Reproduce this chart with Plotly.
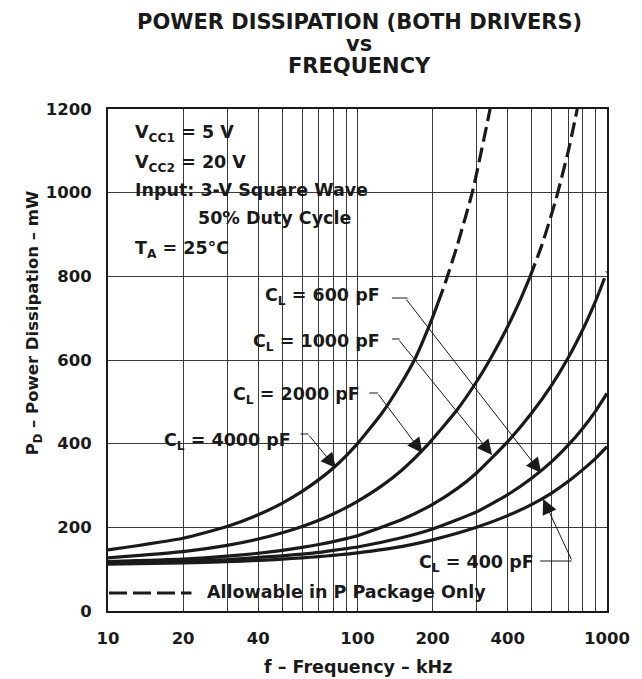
import plotly.graph_objects as go

# ---------------- data ----------------
x_tick_vals = [10, 20, 40, 100, 200, 400, 1000]
x_minor_vals = [30, 50, 60, 70, 80, 90, 300, 500, 600, 700, 800, 900]
y_tick_vals = [0, 200, 400, 600, 800, 1000, 1200]

freq_4000 = [10, 20, 30, 40, 50, 60, 70, 80, 90, 100, 125, 150, 170, 200, 210, 225, 250, 290, 340]
pd_4000 = [146, 174, 202, 230, 258, 286, 314, 342, 371, 400, 472, 545, 603, 702, 736, 785, 870, 1006, 1200]

freq_2000 = [10, 20, 30, 40, 50, 60, 70, 80, 90, 100, 125, 150, 190, 250, 300, 350, 400, 450, 490, 550, 625, 700, 760]
pd_2000 = [127, 142, 157, 172, 187, 202, 217, 232, 247, 262, 299, 336, 396, 480, 548, 615, 680, 745, 797, 877, 985, 1100, 1200]

freq_1000 = [10, 20, 30, 40, 50, 60, 70, 80, 90, 100, 150, 200, 250, 300, 400, 500, 600, 700, 800, 900, 930, 1000]
pd_1000 = [118, 124, 131, 138, 145, 152, 159, 166, 173, 180, 218, 255, 292, 330, 405, 474, 540, 606, 673, 741, 762, 811]

freq_600 = [10, 20, 30, 40, 50, 60, 70, 80, 90, 100, 150, 200, 300, 400, 500, 600, 700, 800, 900, 1000]
pd_600 = [115, 119, 123, 128, 132, 136, 140, 145, 149, 153, 175, 196, 237, 278, 318, 357, 397, 437, 478, 520]

freq_400 = [10, 20, 30, 40, 50, 60, 70, 80, 90, 100, 150, 200, 300, 400, 500, 600, 700, 800, 900, 1000]
pd_400 = [112, 115, 118, 121, 124, 127, 130, 133, 136, 139, 154, 170, 200, 228, 255, 282, 310, 338, 365, 393]

# frequency (kHz) above which each curve is drawn dashed ("Allowable in P Package Only")
dash_from_4000 = 210
dash_from_2000 = 490
dash_from_1000 = 930

series = [
    (freq_4000, pd_4000, dash_from_4000),
    (freq_2000, pd_2000, dash_from_2000),
    (freq_1000, pd_1000, dash_from_1000),
    (freq_600, pd_600, None),
    (freq_400, pd_400, None),
]

# ---------------- layout helpers ----------------
W, H = 642, 679
L, R, T, B = 108, 26, 109, 68
PW, PH = W - L - R, H - T - B
INK = "#1a1a1a"
GRID = "#3a3a3a"
FONT = "DejaVu Sans"


def px_x(px):
    """page pixel x -> paper"""
    return (px - L) / PW


def px_y(py):
    """page pixel y -> paper"""
    return (T + PH - py) / PH


fig = go.Figure()

for f, p, dash_from in series:
    if dash_from is None:
        sf, sp, df, dp = f, p, [], []
    else:
        sf = [a for a in f if a <= dash_from]
        sp = [b for a, b in zip(f, p) if a <= dash_from]
        df = [a for a in f if a >= dash_from]
        dp = [b for a, b in zip(f, p) if a >= dash_from]
    fig.add_trace(go.Scatter(x=sf, y=sp, mode="lines", showlegend=False, hoverinfo="skip",
                             line=dict(color=INK, width=3.2, shape="spline", smoothing=0.5)))
    if df:
        fig.add_trace(go.Scatter(x=df, y=dp, mode="lines", showlegend=False, hoverinfo="skip",
                                 line=dict(color=INK, width=3.2, dash="15px,6px",
                                           shape="spline", smoothing=0.5)))

shapes = []
# white boxes hiding the grid behind the texts (page pixels)
white_boxes = [
    (120, 117, 393, 267),   # conditions box
    (255, 278, 396, 309),   # 600 pF
    (243, 326, 405, 363),   # 1000 pF
    (232, 383, 385, 410),   # 2000 pF
    (150, 428, 303, 457),   # 4000 pF
    (418, 546, 548, 578),   # 400 pF
    (110, 577, 505, 604),   # legend
]
for x0, y0, x1, y1 in white_boxes:
    shapes.append(dict(type="rect", xref="paper", yref="paper", layer="between",
                       x0=px_x(x0), x1=px_x(x1), y0=px_y(y1), y1=px_y(y0),
                       fillcolor="white", line=dict(width=0)))

# short horizontal leader segments next to the labels
leaders = [
    (304, 312, 434),
    (374, 383, 393),
    (397, 405, 339),
    (397, 413, 298),
    (548, 580, 561),
]
for x0, x1, y in leaders:
    shapes.append(dict(type="line", xref="paper", yref="paper", layer="above",
                       x0=px_x(x0), x1=px_x(x1), y0=px_y(y), y1=px_y(y),
                       line=dict(color=INK, width=1)))

# legend sample
shapes.append(dict(type="line", xref="paper", yref="paper", layer="above",
                   x0=px_x(109), x1=px_x(193), y0=px_y(593), y1=px_y(593),
                   line=dict(color=INK, width=3.2, dash="18px,6px")))

annotations = []


def text(t, x, y, size=17.5, xanchor="left", yanchor="middle", angle=0):
    annotations.append(dict(text=t, xref="paper", yref="paper", x=px_x(x), y=px_y(y),
                            xanchor=xanchor, yanchor=yanchor, showarrow=False, textangle=angle,
                            font=dict(family=FONT, size=size, color=INK, weight="bold")))


# title
text("POWER DISSIPATION (BOTH DRIVERS)", 364, 22, size=21, xanchor="center")
text("vs", 364, 44, size=21, xanchor="center")
text("FREQUENCY", 364, 66, size=21, xanchor="center")

# axis titles
text("f \u2013 Frequency \u2013 kHz", 362, 667, size=17.5, xanchor="center")
text("P<sub>D</sub> \u2013 Power Dissipation \u2013 mW", 32, 323, size=16.5, xanchor="center", angle=-90)

# conditions
text("V<sub>CC1</sub> = 5 V", 133, 134)
text("V<sub>CC2</sub> = 20 V", 133, 163)
text("Input: 3-V Square Wave", 133, 190)
text("50% Duty Cycle", 198, 218)
text("T<sub>A</sub> = 25\u00b0C", 133, 249)

# curve labels
text("C<sub>L</sub> = 600 pF", 387, 296, xanchor="right")
text("C<sub>L</sub> = 1000 pF", 387, 342, xanchor="right")
text("C<sub>L</sub> = 2000 pF", 367, 396, xanchor="right")
text("C<sub>L</sub> = 4000 pF", 296, 441, xanchor="right")
text("C<sub>L</sub> = 400 pF", 544, 563, xanchor="right")

# legend text
text("Allowable in P Package Only", 207, 592)

# arrows: (tip x, tip y, tail x, tail y) in page pixels
arrows = [
    (340, 468, 312, 434),
    (428, 453, 383, 393),
    (499, 455, 405, 339),
    (549, 473, 413, 298),
    (551, 499, 580, 561),
]
for tx, ty, bx, by in arrows:
    annotations.append(dict(text="", xref="paper", yref="paper", x=px_x(tx), y=px_y(ty),
                            ax=bx - tx, ay=by - ty, axref="pixel", ayref="pixel",
                            showarrow=True, arrowhead=2, arrowsize=3, arrowwidth=1,
                            arrowcolor=INK, standoff=0))

fig.update_layout(
    width=W, height=H,
    margin=dict(l=L, r=R, t=T, b=B),
    paper_bgcolor="white", plot_bgcolor="white",
    shapes=shapes, annotations=annotations,
    showlegend=False,
)

fig.update_xaxes(
    type="log", range=[1, 3],
    tickvals=x_tick_vals, ticktext=[str(v) for v in x_tick_vals],
    ticks="", ticklabelstandoff=11,
    tickfont=dict(family=FONT, size=16.5, color=INK, weight="bold"),
    showgrid=True, gridcolor=GRID, gridwidth=1,
    minor=dict(tickvals=x_minor_vals, showgrid=True, gridcolor=GRID, gridwidth=1, ticks=""),
    showline=True, mirror=True, linecolor=INK, linewidth=2,
    zeroline=False,
)
fig.update_yaxes(
    range=[0, 1200], tickvals=y_tick_vals,
    ticks="", ticklabelstandoff=11,
    tickfont=dict(family=FONT, size=16.5, color=INK, weight="bold"),
    showgrid=True, gridcolor=GRID, gridwidth=1,
    showline=True, mirror=True, linecolor=INK, linewidth=2,
    zeroline=False,
)

fig.write_html("out.html",
               config={"displayModeBar": False, "staticPlot": True},
               post_script="document.body.style.margin='0';document.body.style.overflow='hidden';")
